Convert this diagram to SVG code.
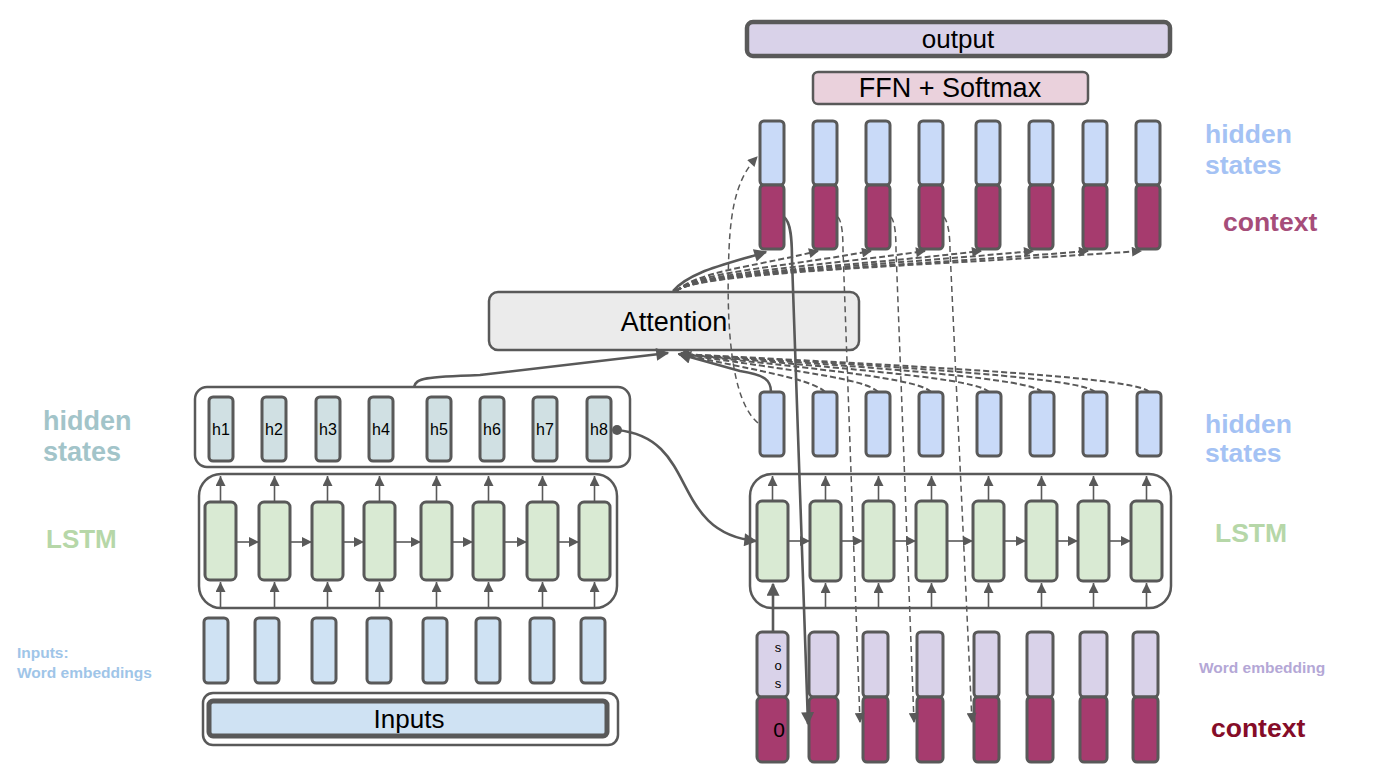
<svg xmlns="http://www.w3.org/2000/svg" width="1394" height="780" viewBox="0 0 1394 780">
<defs>
<style>
.bx{stroke:#595959;stroke-width:3}
.ct{fill:#fff;stroke:#595959;stroke-width:2.5}
.hb{fill:#c9daf8}
.rd{fill:#a63b6e}
.pu{fill:#d9d2e9}
.ls{fill:#d9ead3}
.em{fill:#cfe2f3}
.he{fill:#d0e0e3}
.ar{stroke:#595959;stroke-width:1.6;fill:none;marker-end:url(#a)}
.so{stroke:#595959;stroke-width:2.6;fill:none;marker-end:url(#b)}
.da{stroke:#595959;stroke-width:1.5;fill:none;stroke-dasharray:6 4;marker-end:url(#c)}
.db{stroke:#595959;stroke-width:2;fill:none;stroke-dasharray:6 3;marker-end:url(#c)}
.t{font-family:"Liberation Sans",Arial,sans-serif;fill:#000}
.l{font-family:"Liberation Sans",Arial,sans-serif;font-weight:bold}
</style>
<marker id="a" viewBox="0 0 10 10" refX="10" refY="5" markerWidth="11" markerHeight="10" orient="auto" markerUnits="userSpaceOnUse"><path d="M0,0L10,5L0,10z" fill="#595959"/></marker>
<marker id="b" viewBox="0 0 10 10" refX="9" refY="5" markerWidth="15" markerHeight="13" orient="auto" markerUnits="userSpaceOnUse"><path d="M0,0L10,5L0,10z" fill="#595959"/></marker>
<marker id="c" viewBox="0 0 10 10" refX="9" refY="5" markerWidth="12" markerHeight="10" orient="auto" markerUnits="userSpaceOnUse"><path d="M0,0L10,5L0,10z" fill="#595959"/></marker>
</defs>
<rect width="1394" height="780" fill="#fff"/>

<g id="labels">
<text class="l" x="43" y="430" font-size="27" fill="#a2c4c9">hidden</text>
<text class="l" x="43" y="461" font-size="27" fill="#a2c4c9">states</text>
<text class="l" x="46" y="548" font-size="26" fill="#b6d7a8">LSTM</text>
<text class="l" x="17" y="658" font-size="15.5" fill="#9fc5e8">Inputs:</text>
<text class="l" x="17" y="678" font-size="15.5" fill="#9fc5e8">Word embeddings</text>
<text class="l" x="1205" y="143" font-size="26.5" fill="#a4c2f4">hidden</text>
<text class="l" x="1205" y="174" font-size="26.5" fill="#a4c2f4">states</text>
<text class="l" x="1223" y="231" font-size="26.5" fill="#a64d79">context</text>
<text class="l" x="1205" y="433" font-size="26.5" fill="#a4c2f4">hidden</text>
<text class="l" x="1205" y="462" font-size="26.5" fill="#a4c2f4">states</text>
<text class="l" x="1215" y="542" font-size="26.5" fill="#b6d7a8">LSTM</text>
<text class="l" x="1199" y="673" font-size="15.5" fill="#b4a7d6">Word embedding</text>
<text class="l" x="1211" y="737" font-size="26.5" fill="#850c28">context</text>
</g>

<g id="output">
<rect x="747" y="22" width="423" height="34" rx="6" fill="#d9d2e9" stroke="#595959" stroke-width="4.5"/>
<text class="t" x="958" y="48" font-size="26" text-anchor="middle">output</text>
</g>
<g id="ffn">
<rect x="813" y="72" width="275" height="32" rx="5" fill="#ead1dc" stroke="#595959" stroke-width="2.5"/>
<text class="t" x="950" y="97" font-size="27" text-anchor="middle">FFN + Softmax</text>
</g>

<g id="dec-top">
<rect class="bx hb" x="760" y="121" width="24" height="64" rx="4"/><rect class="bx rd" x="760" y="185" width="24" height="64" rx="4"/>
<rect class="bx hb" x="813" y="121" width="24" height="64" rx="4"/><rect class="bx rd" x="813" y="185" width="24" height="64" rx="4"/>
<rect class="bx hb" x="866" y="121" width="24" height="64" rx="4"/><rect class="bx rd" x="866" y="185" width="24" height="64" rx="4"/>
<rect class="bx hb" x="919" y="121" width="24" height="64" rx="4"/><rect class="bx rd" x="919" y="185" width="24" height="64" rx="4"/>
<rect class="bx hb" x="976" y="121" width="24" height="64" rx="4"/><rect class="bx rd" x="976" y="185" width="24" height="64" rx="4"/>
<rect class="bx hb" x="1029" y="121" width="24" height="64" rx="4"/><rect class="bx rd" x="1029" y="185" width="24" height="64" rx="4"/>
<rect class="bx hb" x="1083" y="121" width="24" height="64" rx="4"/><rect class="bx rd" x="1083" y="185" width="24" height="64" rx="4"/>
<rect class="bx hb" x="1136" y="121" width="24" height="64" rx="4"/><rect class="bx rd" x="1136" y="185" width="24" height="64" rx="4"/>
</g>

<g id="attention">
<rect x="489" y="292" width="370" height="58" rx="9" fill="#ebebeb" stroke="#595959" stroke-width="2.5"/>
<text class="t" x="674" y="331" font-size="27" text-anchor="middle">Attention</text>
</g>

<g id="enc-hidden">
<rect class="ct" x="195" y="387" width="435" height="80" rx="12"/>
<rect class="bx he" x="209" y="397" width="24" height="64" rx="4"/>
<rect class="bx he" x="262" y="397" width="24" height="64" rx="4"/>
<rect class="bx he" x="316" y="397" width="24" height="64" rx="4"/>
<rect class="bx he" x="369" y="397" width="24" height="64" rx="4"/>
<rect class="bx he" x="427" y="397" width="24" height="64" rx="4"/>
<rect class="bx he" x="480" y="397" width="24" height="64" rx="4"/>
<rect class="bx he" x="533" y="397" width="24" height="64" rx="4"/>
<rect class="bx he" x="587" y="397" width="24" height="64" rx="4"/>
<g class="t" font-size="16" text-anchor="middle">
<text x="221" y="435">h1</text><text x="274" y="435">h2</text><text x="328" y="435">h3</text><text x="381" y="435">h4</text>
<text x="439" y="435">h5</text><text x="492" y="435">h6</text><text x="545" y="435">h7</text><text x="599" y="435">h8</text>
</g>
</g>

<g id="enc-lstm">
<rect class="ct" x="199" y="474" width="418" height="134" rx="22"/>
<rect class="bx ls" x="205" y="502" width="31" height="78" rx="5"/>
<rect class="bx ls" x="259" y="502" width="31" height="78" rx="5"/>
<rect class="bx ls" x="312" y="502" width="31" height="78" rx="5"/>
<rect class="bx ls" x="364" y="502" width="31" height="78" rx="5"/>
<rect class="bx ls" x="421" y="502" width="31" height="78" rx="5"/>
<rect class="bx ls" x="473" y="502" width="31" height="78" rx="5"/>
<rect class="bx ls" x="527" y="502" width="31" height="78" rx="5"/>
<rect class="bx ls" x="579" y="502" width="31" height="78" rx="5"/>
</g>

<g id="enc-emb">
<rect class="bx em" x="204" y="618" width="24" height="65" rx="4"/>
<rect class="bx em" x="255" y="618" width="24" height="65" rx="4"/>
<rect class="bx em" x="312" y="618" width="24" height="65" rx="4"/>
<rect class="bx em" x="367" y="618" width="24" height="65" rx="4"/>
<rect class="bx em" x="423" y="618" width="24" height="65" rx="4"/>
<rect class="bx em" x="476" y="618" width="24" height="65" rx="4"/>
<rect class="bx em" x="530" y="618" width="24" height="65" rx="4"/>
<rect class="bx em" x="581" y="618" width="24" height="65" rx="4"/>
</g>
<g id="inputs">
<rect class="ct" x="203" y="693" width="415" height="52" rx="10"/>
<rect x="209" y="701" width="398" height="35" rx="4" fill="#cfe2f3" stroke="#595959" stroke-width="5"/>
<text class="t" x="409" y="728" font-size="26" text-anchor="middle">Inputs</text>
</g>

<g id="dec-hidden">
<rect class="bx hb" x="760" y="392" width="24" height="64" rx="4"/>
<rect class="bx hb" x="813" y="392" width="24" height="64" rx="4"/>
<rect class="bx hb" x="866" y="392" width="24" height="64" rx="4"/>
<rect class="bx hb" x="919" y="392" width="24" height="64" rx="4"/>
<rect class="bx hb" x="977" y="392" width="24" height="64" rx="4"/>
<rect class="bx hb" x="1030" y="392" width="24" height="64" rx="4"/>
<rect class="bx hb" x="1083" y="392" width="24" height="64" rx="4"/>
<rect class="bx hb" x="1137" y="392" width="24" height="64" rx="4"/>
</g>

<g id="dec-lstm">
<rect class="ct" x="750" y="474" width="421" height="134" rx="22"/>
<rect class="bx ls" x="757" y="501" width="31" height="80" rx="5"/>
<rect class="bx ls" x="810" y="501" width="31" height="80" rx="5"/>
<rect class="bx ls" x="863" y="501" width="31" height="80" rx="5"/>
<rect class="bx ls" x="916" y="501" width="31" height="80" rx="5"/>
<rect class="bx ls" x="973" y="501" width="31" height="80" rx="5"/>
<rect class="bx ls" x="1026" y="501" width="31" height="80" rx="5"/>
<rect class="bx ls" x="1078" y="501" width="31" height="80" rx="5"/>
<rect class="bx ls" x="1131" y="501" width="31" height="80" rx="5"/>
</g>

<g id="dec-inputs">
<rect class="bx pu" x="757" y="632" width="31" height="65" rx="5"/><rect class="bx rd" x="757" y="697" width="31" height="65" rx="5"/>
<rect class="bx pu" x="809" y="632" width="29" height="65" rx="5"/><rect class="bx rd" x="809" y="697" width="29" height="65" rx="5"/>
<rect class="bx pu" x="863" y="632" width="25" height="65" rx="4"/><rect class="bx rd" x="863" y="697" width="25" height="65" rx="4"/>
<rect class="bx pu" x="917" y="632" width="26" height="65" rx="4"/><rect class="bx rd" x="917" y="697" width="26" height="65" rx="4"/>
<rect class="bx pu" x="974" y="632" width="25" height="65" rx="4"/><rect class="bx rd" x="974" y="697" width="25" height="65" rx="4"/>
<rect class="bx pu" x="1027" y="632" width="26" height="65" rx="4"/><rect class="bx rd" x="1027" y="697" width="26" height="65" rx="4"/>
<rect class="bx pu" x="1080" y="632" width="27" height="65" rx="4"/><rect class="bx rd" x="1080" y="697" width="27" height="65" rx="4"/>
<rect class="bx pu" x="1133" y="632" width="25" height="65" rx="4"/><rect class="bx rd" x="1133" y="697" width="25" height="65" rx="4"/>
<g class="t" font-size="13" text-anchor="middle">
<text x="778" y="652">s</text><text x="778" y="670">o</text><text x="778" y="688">s</text>
</g>
<text class="t" x="779" y="737" font-size="21" text-anchor="middle">0</text>
</g>

<g id="connectors">
<path class="ar" d="M220.5 502V476"/><path class="ar" d="M274.5 502V476"/><path class="ar" d="M327.5 502V476"/><path class="ar" d="M379.5 502V476"/>
<path class="ar" d="M436.5 502V476"/><path class="ar" d="M488.5 502V476"/><path class="ar" d="M542.5 502V476"/><path class="ar" d="M594.5 502V476"/>
<path class="ar" d="M220.5 608V582"/><path class="ar" d="M274.5 608V582"/><path class="ar" d="M327.5 608V582"/><path class="ar" d="M379.5 608V582"/>
<path class="ar" d="M436.5 608V582"/><path class="ar" d="M488.5 608V582"/><path class="ar" d="M542.5 608V582"/><path class="ar" d="M594.5 608V582"/>
<path class="ar" d="M236 542H259"/><path class="ar" d="M290 542H312"/><path class="ar" d="M343 542H364"/><path class="ar" d="M395 542H421"/>
<path class="ar" d="M452 542H473"/><path class="ar" d="M504 542H527"/><path class="ar" d="M558 542H579"/>
<path class="ar" d="M772.5 501V476"/><path class="ar" d="M825.5 501V476"/><path class="ar" d="M878.5 501V476"/><path class="ar" d="M931.5 501V476"/>
<path class="ar" d="M988.5 501V476"/><path class="ar" d="M1041.5 501V476"/><path class="ar" d="M1093.5 501V476"/><path class="ar" d="M1146.5 501V476"/>
<path class="ar" d="M825.5 608V583"/><path class="ar" d="M878.5 608V583"/><path class="ar" d="M931.5 608V583"/>
<path class="ar" d="M988.5 608V583"/><path class="ar" d="M1041.5 608V583"/><path class="ar" d="M1093.5 608V583"/><path class="ar" d="M1146.5 608V583"/>
<path class="ar" d="M788 541H810"/><path class="ar" d="M841 541H863"/><path class="ar" d="M894 541H916"/><path class="ar" d="M947 541H973"/>
<path class="ar" d="M1004 541H1026"/><path class="ar" d="M1057 541H1078"/><path class="ar" d="M1109 541H1131"/>
<path class="so" stroke-width="3" d="M773 632V584"/>
<circle cx="617" cy="430" r="5" fill="#595959"/>
<path class="so" d="M617 430C700 438 668 532 756 541"/>
<path class="so" d="M414 387C416 378 425 377 480 375L668 353"/>
<path class="so" d="M771 392C771 380 765 375 740 371L679 354"/>
<path class="db" d="M825 392C813 380 766 372 679 354"/>
<path class="db" d="M878 392C866 379 798 371 679 354"/>
<path class="db" d="M931 392C919 379 830 370 679 354"/>
<path class="db" d="M989 392C977 379 866 370 679 354"/>
<path class="db" d="M1042 392C1030 379 900 369 679 354"/>
<path class="db" d="M1095 392C1083 379 930 368 679 354"/>
<path class="db" d="M1149 392C1137 378 960 368 679 354"/>
<path class="so" d="M673 291C690 272 720 266 766 252"/>
<path class="db" d="M676 291C700 271 747 268 818 251"/>
<path class="db" d="M676 291C700 271 773 269 871 251"/>
<path class="db" d="M676 291C700 272 800 269 925 251"/>
<path class="db" d="M676 291C700 272 828 269 981 251"/>
<path class="db" d="M676 291C700 272 855 268 1033 251"/>
<path class="db" d="M676 291C700 272 882 268 1088 251"/>
<path class="db" d="M676 291C700 272 908 267 1141 251"/>
<path class="da" d="M758 423C730 400 726 320 729 250C731 200 740 175 757 157"/>
<path class="so" d="M784 217C791 222 792 240 792 260L808 724"/>
<path class="da" d="M838 217C842 222 843 235 843 250L860 722"/>
<path class="da" d="M891 217C895 222 896 235 896 250L914 722"/>
<path class="da" d="M944 217C948 222 950 235 950 250L972 722"/>
</g>
</svg>
